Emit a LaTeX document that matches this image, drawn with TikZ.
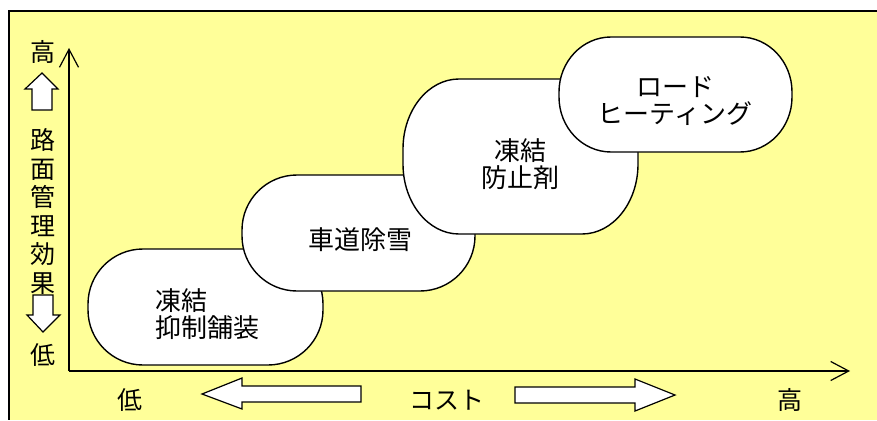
\documentclass[tikz,border=0pt]{standalone}
\usepackage{fontspec}
\setmainfont{Noto Sans CJK JP}
\usetikzlibrary{arrows.meta}
\definecolor{bgyellow}{HTML}{FFFF99}
\newcommand\stadium[6]{%
\draw[boxst] (#1+#5,#2) -- (#3-#5,#2) .. controls (#3-0.448*#5,#2) and (#3,#2+0.448*#6) .. (#3,#2+#6) -- (#3,#4-#6) .. controls (#3,#4-0.448*#6) and (#3-0.448*#5,#4) .. (#3-#5,#4) -- (#1+#5,#4) .. controls (#1+0.448*#5,#4) and (#1,#4-0.448*#6) .. (#1,#4-#6) -- (#1,#2+#6) .. controls (#1,#2+0.448*#6) and (#1+0.448*#5,#2) .. cycle;}
\begin{document}
\begin{tikzpicture}[x=1pt,y=-1pt,
  boxst/.style={draw=black,fill=white,line width=1.4pt},
  lbl/.style={inner sep=0pt,font=\fontsize{26}{27.5}\selectfont},
  fatarrow/.style={draw=black,fill=white,line width=1.2pt,line join=miter},
  axis/.style={line width=1.5pt,-{Straight Barb[length=18pt,width=19pt,line width=1.2pt]}}]
\useasboundingbox (0,0) rectangle (877,420);
\fill[white] (0,0) rectangle (877,420);
\fill[bgyellow] (9,11) rectangle (877,420);
\draw[line width=1.5pt] (877,11) -- (9,11) -- (9,420);
% axes
\coordinate (origin) at (69,371);
\coordinate (ytip) at (69,48);
\coordinate (xtip) at (850,371);
\draw[axis] (origin) -- (ytip);
\draw[axis] (origin) -- (xtip);
% boxes
\stadium{88}{249}{323}{365}{55}{55}
\stadium{242}{175}{475}{291}{55}{55}
\stadium{403}{79}{638}{234}{56}{70}
\stadium{559}{37}{792}{152}{52}{55}
\node[lbl,align=left] (t1) at (207,314) {凍結\\抑制舗装};
\node[lbl] (t2) at (360,240) {車道除雪};
\node[lbl,align=center] (t3) at (520,164) {凍結\\防止剤};
\node[lbl,align=center] (t4) at (675,101) {ロード\\ヒーティング};
% left axis labels
\node[lbl,font=\fontsize{25}{27}\selectfont] (yhigh) at (43,52) {高};
\node[lbl,align=center,font=\fontsize{25}{28.6}\selectfont] (ytitle) at (43,211.5) {路\\面\\管\\理\\効\\果};
\node[lbl,font=\fontsize{25}{27}\selectfont] (ylow) at (43,355) {低};
\draw[fatarrow] (42,73) -- (58,89) -- (52,89) -- (52,110) -- (32,110) -- (32,89) -- (25,89) -- cycle;
\draw[fatarrow] (33,295) -- (53,295) -- (53,315) -- (60,315) -- (43,332) -- (27,315) -- (33,315) -- cycle;
% bottom labels
\node[lbl,font=\fontsize{25}{27}\selectfont] (xlow) at (130,400) {低};
\node[lbl,font=\fontsize{25}{27}\selectfont] (xtitle) at (447,400) {コスト};
\node[lbl,font=\fontsize{25}{27}\selectfont] (xhigh) at (790,400) {高};
\draw[fatarrow] (202,394) -- (242,378) -- (242,386) -- (361,386) -- (361,402) -- (242,402) -- (242,409) -- cycle;
\draw[fatarrow] (515,387) -- (635,387) -- (635,379) -- (675,395) -- (635,411) -- (635,403) -- (515,403) -- cycle;
\end{tikzpicture}
\end{document}
